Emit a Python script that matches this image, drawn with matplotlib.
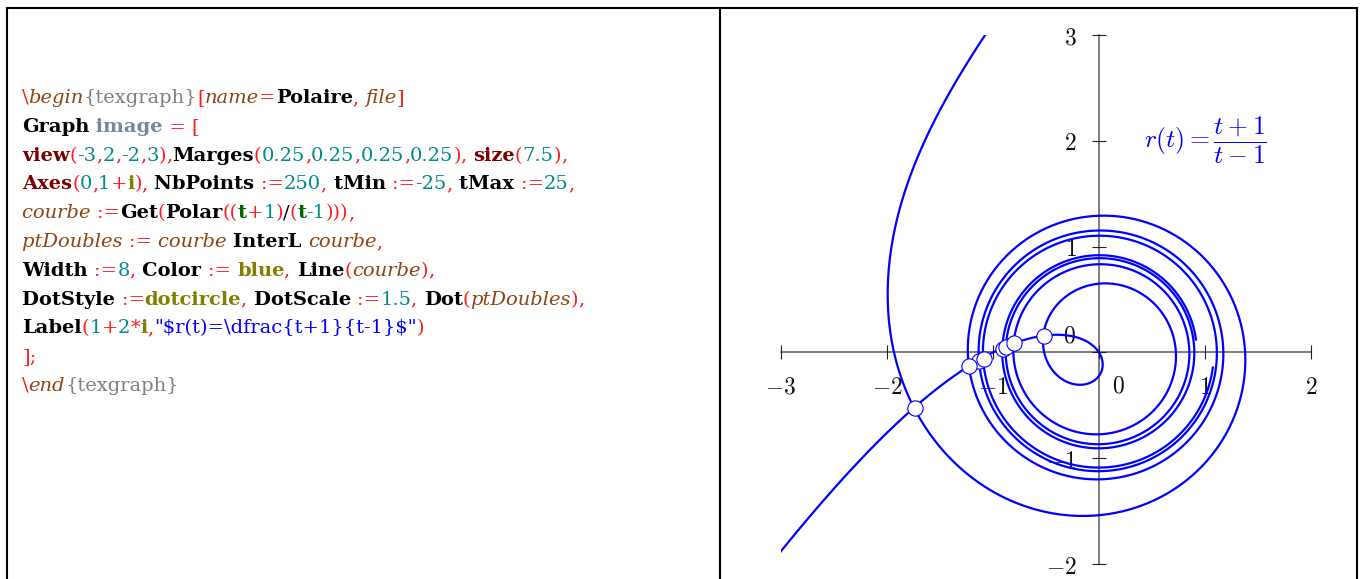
import numpy as np
import matplotlib
matplotlib.use("Agg")
import matplotlib.pyplot as plt
from matplotlib.font_manager import FontProperties
from matplotlib.transforms import IdentityTransform
from matplotlib.lines import Line2D

plt.rcParams["mathtext.fontset"] = "cm"

# ---- parameters of the polar curve r(t) = (t+1)/(t-1) ----
T_MIN, T_MAX, NB_POINTS = -25.0, 25.0, 250
VIEW = (-3, 2, -2, 3)
X_TICKS = [-3, -2, -1, 0, 1, 2]
X_TICK_LABELS = ["$-3$", "$-2$", "$-1$", "", "$1$", "$2$"]
Y_TICKS = [-2, -1, 0, 1, 2, 3]
Y_TICK_LABELS = ["$-2$", "$-1$", "", "$1$", "$2$", "$3$"]
LABEL_POS = (1, 2)
LABEL_TEXT = r"$r(t)=\dfrac{t+1}{t-1}$"

# ---- source listing shown on the left (text, style) ----
CODE_LINES = [
    [("\\", "op"), ("begin", "var"), ("{texgraph}", "brace"), ("[", "op"), ("name", "var"),
     ("=", "op"), ("Polaire", "kw"), (", ", "op"), ("file", "var"), ("]", "op")],
    [("Graph", "kw"), (" image", "img"), (" = [", "op")],
    [("view", "fn"), ("(", "op"), ("-3", "num"), (",", "op"), ("2", "num"), (",", "op"),
     ("-2", "num"), (",", "op"), ("3", "num"), (")", "op"), (",", "op"), ("Marges", "kw"),
     ("(", "op"), ("0.25", "num"), (",", "op"), ("0.25", "num"), (",", "op"), ("0.25", "num"),
     (",", "op"), ("0.25", "num"), (")", "op"), (", ", "op"), ("size", "fn"), ("(", "op"),
     ("7.5", "num"), (")", "op"), (",", "op")],
    [("Axes", "fn"), ("(", "op"), ("0", "num"), (",", "op"), ("1", "num"), ("+", "op"),
     ("i", "const"), (")", "op"), (", ", "op"), ("NbPoints ", "kw"), (":=", "op"),
     ("250", "num"), (", ", "op"), ("tMin ", "kw"), (":=", "op"), ("-25", "num"),
     (", ", "op"), ("tMax ", "kw"), (":=", "op"), ("25", "num"), (",", "op")],
    [("courbe ", "var"), (":=", "op"), ("Get", "kw"), ("(", "op"), ("Polar", "kw"),
     ("((", "op"), ("t", "green"), ("+", "op"), ("1", "num"), (")", "op"), ("/", "plain"),
     ("(", "op"), ("t", "green"), ("-1", "num"), (")))", "op"), (",", "op")],
    [("ptDoubles ", "var"), (":= ", "op"), ("courbe ", "var"), ("InterL ", "kw"),
     ("courbe", "var"), (",", "op")],
    [("Width ", "kw"), (":=", "op"), ("8", "num"), (", ", "op"), ("Color ", "kw"),
     (":= ", "op"), ("blue", "const"), (", ", "op"), ("Line", "kw"), ("(", "op"),
     ("courbe", "var"), (")", "op"), (",", "op")],
    [("DotStyle ", "kw"), (":=", "op"), ("dotcircle", "const"), (", ", "op"),
     ("DotScale ", "kw"), (":=", "op"), ("1.5", "num"), (", ", "op"), ("Dot", "kw"),
     ("(", "op"), ("ptDoubles", "var"), (")", "op"), (",", "op")],
    [("Label", "kw"), ("(", "op"), ("1", "num"), ("+", "op"), ("2", "num"), ("*", "op"),
     ("i", "const"), (",", "op"), ('"$r(t)=\\dfrac{t+1}{t-1}$"', "str"), (")", "op")],
    [("];", "op")],
    [("\\", "op"), ("end", "var"), ("{texgraph}", "brace")],
]

STYLES = {
    "op":    dict(color="#ff1a1a", weight="normal", style="normal"),
    "var":   dict(color="#8b4513", weight="normal", style="italic"),
    "brace": dict(color="#808080", weight="normal", style="normal"),
    "kw":    dict(color="#000000", weight="bold", style="normal"),
    "img":   dict(color="#778899", weight="bold", style="normal"),
    "fn":    dict(color="#7a0000", weight="bold", style="normal"),
    "num":   dict(color="#008b8b", weight="normal", style="normal"),
    "const": dict(color="#808000", weight="bold", style="normal"),
    "green": dict(color="#006400", weight="bold", style="normal"),
    "plain": dict(color="#000000", weight="normal", style="normal"),
    "str":   dict(color="#0000ff", weight="normal", style="normal"),
}

W, H = 1362, 579
fig = plt.figure(figsize=(W / 100, H / 100), dpi=100)
renderer = fig.canvas.get_renderer()
FAMILY = "DejaVu Serif"


def font(kind, size):
    st = STYLES[kind]
    return FontProperties(family=FAMILY, weight=st["weight"], style=st["style"], size=size)


def run_width(s, kind, size):
    fp = font(kind, size)
    w1 = renderer.get_text_width_height_descent("|" + s + "|", fp, ismath=False)[0]
    w0 = renderer.get_text_width_height_descent("||", fp, ismath=False)[0]
    return w1 - w0


def line_width(line, size):
    return sum(run_width(s, k, size) for s, k in line)


# listing font size: the long lines together should fill the left panel
long_lines = [CODE_LINES[i] for i in (0, 2, 3, 5, 6, 7, 8)]
target_total = 377 + 563 + 556 + 343 + 410 + 555 + 406
code_size = 10 * target_total / sum(line_width(l, 10) for l in long_lines)

x0, y_first, line_step = 22, 103, 28.8
for i, line in enumerate(CODE_LINES):
    x = x0
    y = H - (y_first + i * line_step)
    for s, kind in line:
        st = STYLES[kind]
        fig.text(x, y, s, transform=IdentityTransform(), fontproperties=font(kind, code_size),
                 color=st["color"], ha="left", va="baseline", parse_math=False)
        x += run_width(s, kind, code_size)

# ---- panel frame ----
frame_kw = dict(transform=IdentityTransform(), color="black", lw=1.5, solid_capstyle="projecting")
fig.add_artist(Line2D([6.5, 1356.5], [H - 7.5, H - 7.5], **frame_kw))
fig.add_artist(Line2D([6.5, 6.5], [0, H - 7.5], **frame_kw))
fig.add_artist(Line2D([720, 720], [0, H - 7.5], **frame_kw))
fig.add_artist(Line2D([1356.5, 1356.5], [0, H - 7.5], **frame_kw))


# ---- polar curve ----
def polar_xy(tt):
    rr = (tt + 1) / (tt - 1)
    return rr * np.cos(tt), rr * np.sin(tt)


t = np.linspace(T_MIN, T_MAX, NB_POINTS)
px, py = polar_xy(t)

# the step across the pole t = 1 is not drawn
jump = np.where(np.sign(t[:-1] - 1) != np.sign(t[1:] - 1))[0]

# drawing: long steps are refined by evaluating r(t) at intermediate angles
seg_len = np.hypot(np.diff(px), np.diff(py))
draw_t = [t[:1]]
for k in range(NB_POINTS - 1):
    if k in jump:
        draw_t.append(np.array([np.nan]))
        draw_t.append(t[k + 1:k + 2])
        continue
    m = 1
    if seg_len[k] > 0.06:
        m = int(min(np.ceil(seg_len[k] / 0.015), 4000))
    draw_t.append(np.linspace(t[k], t[k + 1], m + 1)[1:])
draw_t = np.concatenate(draw_t)
cx, cy = polar_xy(draw_t)

# self-intersections of the sampled polyline (double points)
P0 = np.column_stack([px[:-1], py[:-1]])
D = np.column_stack([px[1:], py[1:]]) - P0
n = len(P0)
valid = np.ones(n, bool)
valid[jump] = False
I, J = np.meshgrid(np.arange(n), np.arange(n), indexing="ij")
mask = (J > I + 1) & valid[I] & valid[J]
I, J = I[mask], J[mask]
di, dj = D[I], D[J]
dp = P0[J] - P0[I]
den = di[:, 0] * dj[:, 1] - di[:, 1] * dj[:, 0]
with np.errstate(divide="ignore", invalid="ignore"):
    s_par = (dp[:, 0] * dj[:, 1] - dp[:, 1] * dj[:, 0]) / den
    u_par = (dp[:, 0] * di[:, 1] - dp[:, 1] * di[:, 0]) / den
ok = (den != 0) & (s_par >= 0) & (s_par < 1) & (u_par >= 0) & (u_par < 1)
dbl = P0[I[ok]] + s_par[ok, None] * di[ok]
inside = ((dbl[:, 0] >= VIEW[0]) & (dbl[:, 0] <= VIEW[1]) &
          (dbl[:, 1] >= VIEW[2]) & (dbl[:, 1] <= VIEW[3]))
dbl = dbl[inside]

ax = fig.add_axes([781 / W, 15 / H, 530 / W, 529 / H])
ax.set_xlim(VIEW[0], VIEW[1])
ax.set_ylim(VIEW[2], VIEW[3])
ax.patch.set_visible(False)
for side in ("top", "right"):
    ax.spines[side].set_visible(False)
for side in ("left", "bottom"):
    ax.spines[side].set_position(("data", 0))
    ax.spines[side].set_color("#5a5a5a")
    ax.spines[side].set_linewidth(1.1)
    ax.spines[side].set_zorder(1)
ax.set_xticks(X_TICKS, X_TICK_LABELS)
ax.set_yticks(Y_TICKS, Y_TICK_LABELS)
ax.tick_params(direction="inout", length=10, width=0.8, color="#222222",
               labelsize=17, pad=11, labelcolor="#111111")

ax.annotate("$0$", xy=(0, 0), xytext=(19, -33), textcoords="offset pixels",
            ha="center", va="center", fontsize=17, color="#111111")
ax.annotate("$0$", xy=(0, 0), xytext=(-30, 17), textcoords="offset pixels",
            ha="center", va="center", fontsize=17, color="#111111")

ax.plot(cx, cy, color="#0000ff", lw=1.6, zorder=3)
ax.plot(dbl[:, 0], dbl[:, 1], "o", ms=11, mfc="white", mec="#0000ff", mew=0.8, zorder=4)

ax.text(LABEL_POS[0], LABEL_POS[1], LABEL_TEXT, color="#0000ff", fontsize=18.5,
        ha="center", va="center")

fig.savefig("out.png", dpi=100)
